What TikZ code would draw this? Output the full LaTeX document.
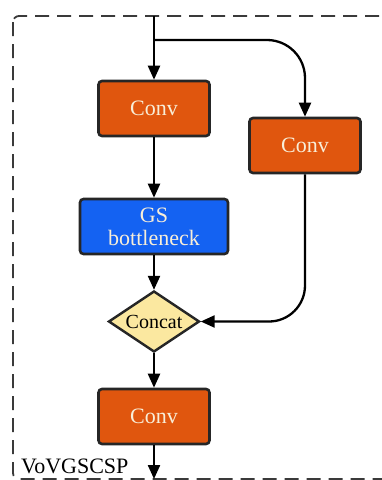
\documentclass[tikz,border=0pt]{standalone}
\usepackage{fontspec}
\setmainfont{Liberation Serif}
\usetikzlibrary{arrows.meta,shapes.geometric}
\definecolor{convfill}{HTML}{E0560E}
\definecolor{gsfill}{HTML}{1462F2}
\definecolor{catfill}{HTML}{FBE8A0}
\definecolor{lighttext}{HTML}{F8EED8}
\definecolor{framecol}{HTML}{3A3A3A}
\tikzset{
  blk/.style={draw=black!85, line width=2.6pt, rounded corners=3.5pt, minimum width=111pt, minimum height=55pt, font=\fontsize{22}{24}\selectfont, text=lighttext, align=center, inner sep=0pt},
  convbox/.style={blk, fill=convfill},
  gsbox/.style={blk, fill=gsfill, minimum width=148pt, font=\fontsize{22}{23}\selectfont},
  catbox/.style={draw=black!85, line width=2.4pt, diamond, aspect=1.48, fill=catfill, minimum width=91pt, minimum height=61pt, inner sep=0pt, font=\fontsize{20}{22}\selectfont},
  flow/.style={line width=2.3pt, -{Triangle[length=14pt,width=12pt]}},
}
\begin{document}
\begin{tikzpicture}[x=1pt,y=-1pt]
\useasboundingbox (0,0) rectangle (382,480);
\begin{scope}
\clip (0,0) rectangle (382,480);
\draw[framecol, line width=1.8pt, dash pattern=on 14pt off 8pt, rounded corners=6pt] (13,16) rectangle (400,479);
\end{scope}
\node[convbox] (c1) at (154,108.5) {Conv};
\node[convbox] (c2) at (305,145.5) {Conv};
\node[gsbox] (gs) at (154,226.5) {GS\\bottleneck};
\node[catbox, text=black] (cat) at (154,321.5) {Concat};
\node[convbox] (c3) at (154,416.5) {Conv};
\coordinate (in) at (154,16);
\coordinate (split) at (154,40);
\coordinate (out) at (154,479);
\node[anchor=base west, font=\fontsize{22}{24}\selectfont, inner sep=0pt] (lbl) at (21,473) {VoVGSCSP};
\draw[flow] (in) -- (c1.north);
\draw[flow, rounded corners=38pt] (split) -| (c2.north);
\draw[flow] (c1.south) -- (gs.north);
\draw[flow] (gs.south) -- (cat.north);
\draw[flow, rounded corners=36pt] (c2.south) |- (cat.east);
\draw[flow] (cat.south) -- (c3.north);
\draw[flow] (c3.south) -- (out);
\end{tikzpicture}
\end{document}
